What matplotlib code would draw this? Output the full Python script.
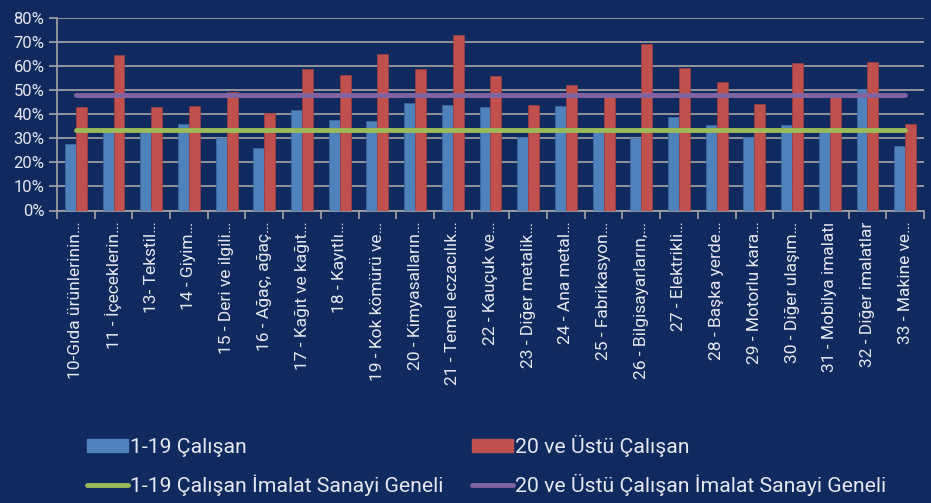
import matplotlib
matplotlib.use("Agg")
import matplotlib.pyplot as plt
import numpy as np
from matplotlib.patches import Patch
from matplotlib.lines import Line2D

categories = [
    "10-Gıda ürünlerinin…", "11 - İçeceklerin…", "13- Tekstil…", "14 - Giyim…",
    "15 - Deri ve ilgili…", "16 - Ağaç, ağaç…", "17 - Kağıt ve kağıt…",
    "18 - Kayıtlı…", "19 - Kok kömürü ve…", "20 - Kimyasalların…",
    "21 - Temel eczacılık…", "22 - Kauçuk ve…", "23 - Diğer metalik…",
    "24 - Ana metal…", "25 - Fabrikasyon…", "26 - Bilgisayarların,…",
    "27 - Elektrikli…", "28 - Başka yerde…", "29 - Motorlu kara…",
    "30 - Diğer ulaşım…", "31 - Mobilya imalatı", "32 - Diğer imalatlar",
    "33 - Makine ve…",
]
small_firms = [27.8, 33.0, 33.0, 35.9, 30.0, 26.0, 41.6, 37.7, 37.0, 44.6, 43.6,
               42.8, 30.5, 43.5, 33.0, 30.0, 38.8, 35.5, 30.4, 35.5, 34.0, 50.3, 26.9]
large_firms = [42.8, 64.5, 43.1, 43.4, 49.2, 40.3, 58.6, 56.1, 64.9, 58.6, 72.9,
               55.9, 43.8, 52.1, 47.2, 69.2, 59.0, 53.3, 44.3, 61.3, 47.2, 61.6, 35.9]
small_total = 33.4
large_total = 47.8

BG = "#102a5f"
TXT = "#e4e8f0"
GRID = "#a6a6a6"

plt.rcParams["font.family"] = ["Roboto", "DejaVu Sans"]

fig = plt.figure(figsize=(9.31, 5.03), dpi=100, facecolor=BG)
ax = fig.add_axes([57 / 931, 1 - 210.5 / 503, (924 - 57) / 931, (210.5 - 17.7) / 503])
ax.set_facecolor(BG)

x = np.arange(len(categories))
w = 0.29
ax.bar(x - w / 2, small_firms, w, color="#4f81bd", edgecolor="#3f6aa0", linewidth=0.5, zorder=3)
ax.bar(x + w / 2, large_firms, w, color="#c0504d", edgecolor="#9c3f3c", linewidth=0.5, zorder=3)
ax.plot([x[0], x[-1]], [small_total] * 2, color="#9bbb59", linewidth=3.5,
        solid_capstyle="round", zorder=4)
ax.plot([x[0], x[-1]], [large_total] * 2, color="#8064a2", linewidth=3.5,
        solid_capstyle="round", zorder=4)

ax.set_xlim(-0.5, len(categories) - 0.5)
ax.set_ylim(0, 80)
ax.set_yticks(np.arange(0, 81, 10))
ax.set_yticklabels([f"{v}%" for v in range(0, 81, 10)], color=TXT, fontsize=12)
ax.yaxis.grid(True, color=GRID, linewidth=1.2, zorder=0)
ax.tick_params(axis="y", length=6, color=GRID, width=1.2, pad=3)

ax.set_xticks(x)
ax.set_xticklabels(categories, rotation=90, color=TXT, fontsize=12.5, va="top")
ax.tick_params(axis="x", length=0, pad=8)
ax.set_xticks(np.arange(-0.5, len(categories), 1), minor=True)
ax.tick_params(axis="x", which="minor", length=6, color=GRID, width=1.2)

for side in ["top", "right"]:
    ax.spines[side].set_visible(False)
for side in ["left", "bottom"]:
    ax.spines[side].set_color(GRID)
    ax.spines[side].set_linewidth(1.2)

handles = [
    Patch(color="#4f81bd", label="1-19 Çalışan"),
    Line2D([], [], color="#9bbb59", linewidth=3.5, solid_capstyle="round",
           label="1-19 Çalışan İmalat Sanayi Geneli"),
    Patch(color="#c0504d", label="20 ve Üstü Çalışan"),
    Line2D([], [], color="#8064a2", linewidth=3.5, solid_capstyle="round",
           label="20 ve Üstü Çalışan İmalat Sanayi Geneli"),
]
leg = fig.legend(handles=handles, ncol=2, loc="center left",
                 bbox_to_anchor=(87 / 931, 1 - 465.5 / 503), frameon=False,
                 fontsize=15.3, handlelength=1.93, handleheight=0.5,
                 handletextpad=0.1, columnspacing=1.32, labelspacing=0.8,
                 borderaxespad=0, borderpad=0)
for t in leg.get_texts():
    t.set_color(TXT)

fig.savefig("out.png", dpi=100, facecolor=BG)
